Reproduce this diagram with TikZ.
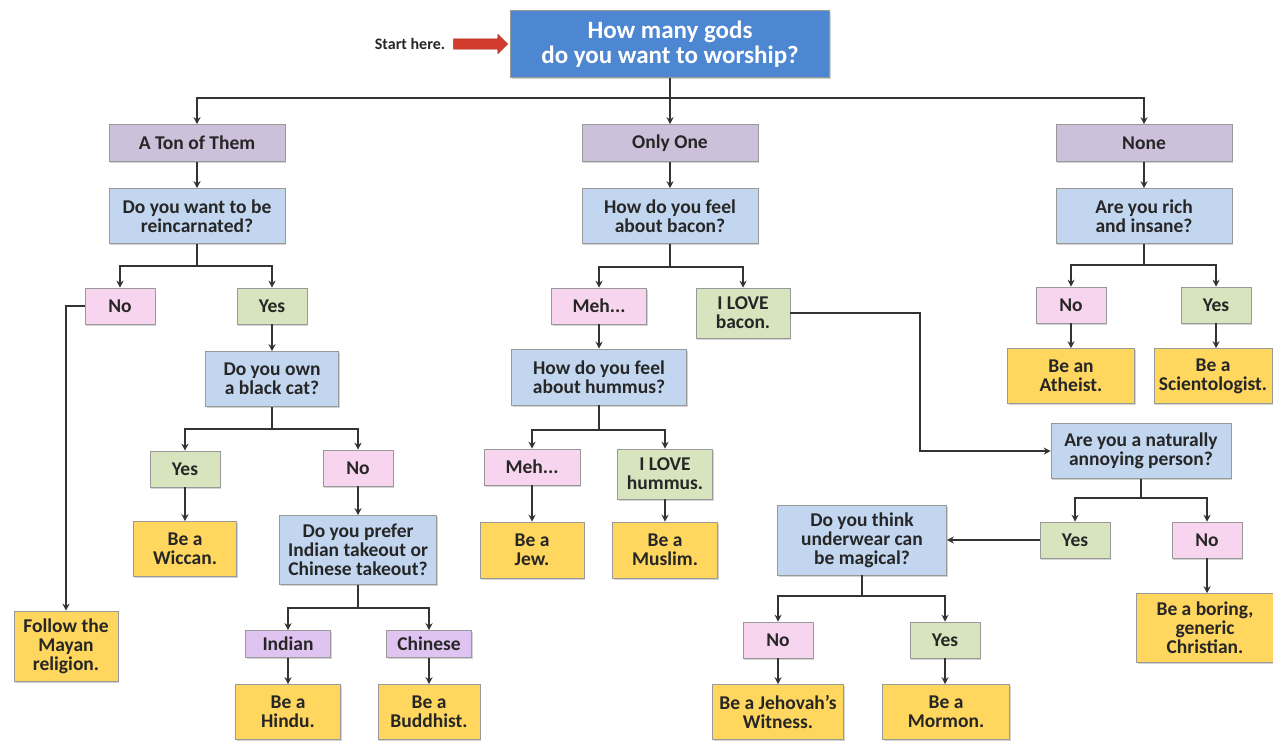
\documentclass[tikz,border=0pt]{standalone}
\usepackage{fontspec}
\setmainfont{Carlito}
\usetikzlibrary{arrows.meta,shadows,shapes.arrows}

\definecolor{topblue}{HTML}{4D86D1}
\definecolor{headpurple}{HTML}{CCC0DA}
\definecolor{questblue}{HTML}{C2D6EF}
\definecolor{nopink}{HTML}{F8D5EE}
\definecolor{yesgreen}{HTML}{D7E4BD}
\definecolor{resultyellow}{HTML}{FFD75E}
\definecolor{choicepurple}{HTML}{DFC4F2}
\definecolor{startred}{HTML}{D33B2C}

\begin{document}
\begin{tikzpicture}[
	x=1pt, y=-1pt,
	block/.style={
		rectangle, draw=black!40, line width=0.6pt,
		drop shadow={shadow xshift=1.2pt, shadow yshift=-1.5pt, opacity=0.35},
		align=center, inner sep=0pt, text=black!85,
		font=\fontsize{19.5}{19}\selectfont\bfseries
	},
	head/.style={block, fill=headpurple, minimum width=176pt, minimum height=37pt},
	quest/.style={block, fill=questblue, minimum width=176pt, minimum height=55pt},
	nobox/.style={block, fill=nopink, minimum width=70pt, minimum height=36pt},
	yesbox/.style={block, fill=yesgreen, minimum width=70pt, minimum height=36pt},
	choice/.style={block, fill=choicepurple, minimum width=85pt, minimum height=27pt},
	result/.style={block, fill=resultyellow, minimum width=104pt, minimum height=55pt},
	line/.style={draw=black!80, line width=1.8pt, -{Stealth[length=7pt,width=7pt]}},
	]
	\useasboundingbox (0,0) rectangle (1273,740);

	\node [block, fill=topblue, text=white, font=\fontsize{25}{25}\selectfont\bfseries,
		minimum width=319pt, minimum height=67pt] (gods) at (670,44) {How many gods\\do you want to worship?};
	\node [font=\fontsize{16}{18}\selectfont\bfseries, text=black!85] (start) at (410,44) {Start here.};
	\node [single arrow, fill=startred, draw=startred!70!black, inner xsep=0pt, inner ysep=5pt,
		minimum height=54pt, single arrow head extend=4.5pt] (startarrow) at (478,44) {};

	\node [head] (ton) at (197,143) {A Ton of Them};
	\node [quest] (reinc) at (197,216) {Do you want to be\\reincarnated?};
	\node [nobox] (reincno) at (120,306) {No};
	\node [yesbox] (reincyes) at (272,306) {Yes};
	\node [result, minimum height=70pt] (mayan) at (66,646) {Follow the\\Mayan\\religion.};
	\node [quest, minimum width=133pt] (cat) at (272,379) {Do you own\\a black cat?};
	\node [yesbox] (catyes) at (185,469) {Yes};
	\node [nobox] (catno) at (358,468) {No};
	\node [result, minimum width=103pt] (wiccan) at (185,549) {Be a\\Wiccan.};
	\node [quest, minimum width=157pt, minimum height=69pt] (takeout) at (358,550) {Do you prefer\\Indian takeout or\\Chinese takeout?};
	\node [choice] (indian) at (288,644) {Indian};
	\node [choice] (chinese) at (429,644) {Chinese};
	\node [result, minimum width=105pt] (hindu) at (288,712) {Be a\\Hindu.};
	\node [result, minimum width=102pt] (buddhist) at (429,712) {Be a\\Buddhist.};

	\node [head] (one) at (670,143) {Only One};
	\node [quest] (bacon) at (670,216) {How do you feel\\about bacon?};
	\node [nobox, minimum width=95pt] (baconmeh) at (599,306) {Meh...};
	\node [yesbox, minimum width=94pt, minimum height=50pt] (baconlove) at (743,313) {I LOVE\\bacon.};
	\node [quest, minimum width=175pt, minimum height=56pt] (hummus) at (599,377) {How do you feel\\about hummus?};
	\node [nobox, minimum width=96pt] (hummusmeh) at (532,467) {Meh...};
	\node [yesbox, minimum width=95pt, minimum height=50pt] (hummuslove) at (665,474) {I LOVE\\hummus.};
	\node [result, minimum height=56pt] (jew) at (532,550) {Be a\\Jew.};
	\node [result, minimum width=105pt, minimum height=56pt] (muslim) at (665,550) {Be a\\Muslim.};

	\node [head] (none) at (1144,143) {None};
	\node [quest] (rich) at (1144,216) {Are you rich\\and insane?};
	\node [nobox] (richno) at (1071,305) {No};
	\node [yesbox] (richyes) at (1216,305) {Yes};
	\node [result, minimum width=127pt] (atheist) at (1071,376) {Be an\\Atheist.};
	\node [result, minimum width=118pt] (scien) at (1213,376) {Be a\\Scientologist.};
	\node [quest, minimum width=180pt] (annoy) at (1141,451) {Are you a naturally\\annoying person?};
	\node [yesbox] (annoyyes) at (1075,540) {Yes};
	\node [nobox] (annoyno) at (1207,540) {No};
	\node [result, minimum width=137pt, minimum height=69pt] (christian) at (1205,628) {Be a boring,\\generic\\Christian.};
	\node [quest, minimum width=169pt, minimum height=70pt] (under) at (862,540) {Do you think\\underwear can\\be magical?};
	\node [nobox] (underno) at (778,640) {No};
	\node [yesbox] (underyes) at (945,640) {Yes};
	\node [result, minimum width=131pt] (jehovah) at (778,712) {Be a Jehovah’s\\Witness.};
	\node [result, minimum width=127pt] (mormon) at (946,712) {Be a\\Mormon.};

	\path [line] (gods.south) -- ++(0,20) -| (ton.north);
	\path [line] (gods) -- (one);
	\path [line] (gods.south) -- ++(0,20) -| (none.north);

	\path [line] (ton) -- (reinc);
	\path [line] (reinc.south) -- ++(0,22) -| (reincno.north);
	\path [line] (reinc.south) -- ++(0,22) -| (reincyes.north);
	\path [line] (reincno.west) -| (mayan.north);
	\path [line] (reincyes) -- (cat);
	\path [line] (cat.south) -- ++(0,22) -| (catyes.north);
	\path [line] (cat.south) -- ++(0,22) -| (catno.north);
	\path [line] (catyes) -- (wiccan);
	\path [line] (catno) -- (takeout);
	\path [line] (takeout.south) -- ++(0,23) -| (indian.north);
	\path [line] (takeout.south) -- ++(0,23) -| (chinese.north);
	\path [line] (indian) -- (hindu);
	\path [line] (chinese) -- (buddhist);

	\path [line] (one) -- (bacon);
	\path [line] (bacon.south) -- ++(0,23) -| (baconmeh.north);
	\path [line] (bacon.south) -- ++(0,23) -| (baconlove.north);
	\path [line] (baconmeh) -- (hummus);
	\path [line] (baconlove.east) -- ++(130,0) |- (annoy.west);
	\path [line] (hummus.south) -- ++(0,25) -| (hummusmeh.north);
	\path [line] (hummus.south) -- ++(0,25) -| (hummuslove.north);
	\path [line] (hummusmeh) -- (jew);
	\path [line] (hummuslove) -- (muslim);

	\path [line] (none) -- (rich);
	\path [line] (rich.south) -- ++(0,21) -| (richno.north);
	\path [line] (rich.south) -- ++(0,21) -| (richyes.north);
	\path [line] (richno) -- (atheist);
	\path [line] (richyes) -- (richyes |- scien.north);
	\path [line] (annoy.south) -- ++(0,19) -| (annoyyes.north);
	\path [line] (annoy.south) -- ++(0,19) -| (annoyno.north);
	\path [line] (annoyyes) -- (under);
	\path [line] (annoyno) -- (annoyno |- christian.north);
	\path [line] (under.south) -- ++(0,21) -| (underno.north);
	\path [line] (under.south) -- ++(0,21) -| (underyes.north);
	\path [line] (underno) -- (jehovah);
	\path [line] (underyes) -- (underyes |- mormon.north);
\end{tikzpicture}
\end{document}
